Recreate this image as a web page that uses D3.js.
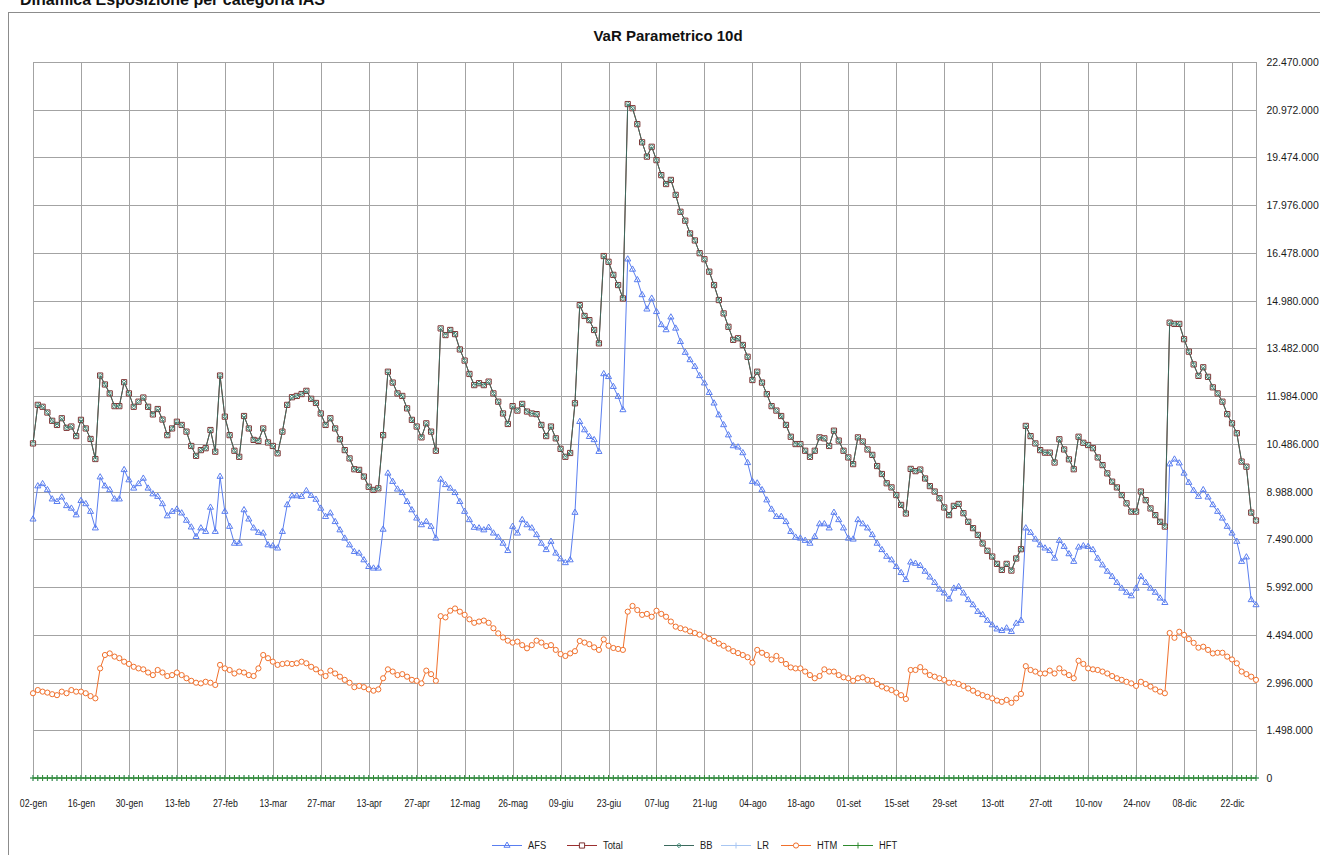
<!DOCTYPE html>
<html>
<head>
<meta charset="utf-8">
<script src="https://cdn.jsdelivr.net/npm/d3@7/dist/d3.min.js"></script>
<style>
  body { margin: 0; background: #fff; }
  svg { display: block; font-family: "Liberation Sans", Arial, sans-serif; }
</style>
</head>
<body>
<div id="chart"></div>
<script>

// x labels, one every 10 business days
const tickLabels = ['02-gen', '16-gen', '30-gen', '13-feb', '27-feb', '13-mar', '27-mar', '13-apr', '27-apr',
  '12-mag', '26-mag', '09-giu', '23-giu', '07-lug', '21-lug', '04-ago', '18-ago', '01-set', '15-set',
  '29-set', '13-ott', '27-ott', '10-nov', '24-nov', '08-dic', '22-dic'];

// y ticks (milioni)
const yTicks = [0, 1.498, 2.996, 4.494, 5.992, 7.49, 8.988, 10.486, 11.984, 13.482, 14.98, 16.478, 17.976, 19.474, 20.972, 22.47];

// values, in millions
const afs = [
  8.12, 9.16, 9.23, 9.04, 8.75, 8.67, 8.81, 8.54, 8.46, 8.25,
  8.70, 8.60, 8.36, 7.84, 9.44, 9.16, 9.04, 8.75, 8.75, 9.67,
  9.35, 9.09, 9.23, 9.40, 9.09, 8.91, 8.83, 8.60, 8.22, 8.36,
  8.43, 8.31, 8.08, 7.87, 7.57, 7.84, 7.73, 8.49, 7.73, 9.46,
  8.36, 7.89, 7.36, 7.36, 8.41, 8.12, 7.84, 7.70, 7.68, 7.31,
  7.28, 7.21, 7.73, 8.57, 8.85, 8.85, 8.83, 9.01, 8.86, 8.74,
  8.46, 8.20, 8.31, 8.04, 7.78, 7.52, 7.31, 7.10, 7.05, 6.84,
  6.63, 6.58, 6.58, 7.80, 9.56, 9.30, 9.06, 8.95, 8.67, 8.41,
  8.15, 7.94, 8.04, 7.89, 7.52, 9.37, 9.20, 9.09, 8.95, 8.67,
  8.36, 8.10, 7.86, 7.84, 7.78, 7.86, 7.68, 7.55, 7.36, 7.13,
  7.89, 7.68, 8.10, 7.94, 7.84, 7.63, 7.36, 7.16, 7.42, 7.05,
  6.87, 6.75, 6.84, 8.33, 11.18, 10.92, 10.71, 10.61, 10.24, 12.68,
  12.59, 12.28, 11.97, 11.55, 16.28, 15.96, 15.63, 15.16, 14.71, 15.05,
  14.63, 14.22, 14.06, 14.46, 14.11, 13.69, 13.35, 13.12, 12.91, 12.62,
  12.39, 12.09, 11.76, 11.39, 11.08, 10.76, 10.42, 10.38, 10.20, 9.89,
  9.30, 9.25, 9.04, 8.72, 8.43, 8.20, 8.20, 8.04, 7.73, 7.55,
  7.52, 7.45, 7.36, 7.57, 7.97, 7.97, 7.84, 8.33, 8.10, 7.84,
  7.52, 7.49, 8.10, 7.97, 7.84, 7.63, 7.36, 7.16, 6.95, 6.84,
  6.63, 6.44, 6.22, 6.77, 6.73, 6.66, 6.48, 6.30, 6.13, 5.92,
  5.80, 5.61, 5.95, 6.00, 5.80, 5.59, 5.43, 5.22, 5.12, 4.94,
  4.80, 4.67, 4.62, 4.70, 4.59, 4.85, 4.94, 7.84, 7.70, 7.49,
  7.31, 7.21, 7.13, 6.89, 7.45, 7.26, 7.03, 6.79, 7.24, 7.28,
  7.26, 7.16, 6.89, 6.68, 6.48, 6.32, 6.13, 5.95, 5.82, 5.71,
  5.95, 6.32, 6.13, 5.95, 5.82, 5.64, 5.50, 9.85, 10.00, 9.88,
  9.56, 9.27, 9.02, 8.83, 9.04, 8.81, 8.57, 8.36, 8.15, 7.89,
  7.68, 7.42, 6.79, 6.93, 5.59, 5.43
];

const total = [
  10.50, 11.71, 11.65, 11.47, 11.21, 11.08, 11.29, 10.99, 11.03, 10.73,
  11.24, 10.97, 10.64, 10.01, 12.63, 12.35, 12.07, 11.67, 11.67, 12.42,
  12.07, 11.65, 11.81, 11.94, 11.65, 11.41, 11.58, 11.25, 10.76, 10.97,
  11.18, 11.08, 10.87, 10.42, 10.11, 10.29, 10.35, 10.92, 10.24, 12.63,
  11.34, 10.76, 10.27, 10.08, 11.36, 10.97, 10.61, 10.58, 10.97, 10.53,
  10.42, 10.19, 10.87, 11.71, 11.95, 11.99, 12.05, 12.15, 11.90, 11.77,
  11.44, 11.08, 11.29, 10.97, 10.63, 10.29, 10.03, 9.69, 9.67, 9.46,
  9.14, 9.04, 9.09, 10.76, 12.75, 12.41, 12.07, 11.99, 11.60, 11.24,
  11.03, 10.69, 11.13, 10.87, 10.27, 14.11, 13.90, 14.06, 13.93, 13.45,
  13.10, 12.68, 12.33, 12.39, 12.33, 12.44, 12.07, 11.81, 11.44, 11.11,
  11.67, 11.53, 11.74, 11.50, 11.44, 11.42, 11.08, 10.73, 11.03, 10.66,
  10.33, 10.08, 10.20, 11.76, 14.84, 14.50, 14.37, 14.06, 13.64, 16.38,
  16.20, 15.79, 15.47, 15.05, 21.15, 21.02, 20.52, 19.95, 19.50, 19.81,
  19.39, 18.92, 18.64, 18.77, 18.30, 17.77, 17.49, 17.09, 16.87, 16.47,
  16.28, 15.89, 15.47, 15.00, 14.58, 14.16, 13.75, 13.80, 13.59, 13.22,
  12.49, 12.75, 12.41, 12.05, 11.67, 11.53, 11.36, 11.08, 10.71, 10.48,
  10.48, 10.27, 10.08, 10.27, 10.69, 10.66, 10.42, 10.90, 10.59, 10.27,
  10.06, 9.85, 10.69, 10.56, 10.31, 10.14, 9.79, 9.54, 9.25, 9.12,
  8.88, 8.57, 8.30, 9.70, 9.63, 9.68, 9.40, 9.16, 8.99, 8.78,
  8.49, 8.25, 8.54, 8.60, 8.31, 8.04, 7.84, 7.63, 7.36, 7.13,
  6.95, 6.72, 6.53, 6.72, 6.51, 6.89, 7.18, 11.05, 10.73, 10.50,
  10.29, 10.21, 10.21, 9.90, 10.63, 10.31, 10.00, 9.69, 10.71, 10.52,
  10.45, 10.35, 10.06, 9.82, 9.56, 9.30, 9.12, 8.88, 8.62, 8.36,
  8.36, 8.99, 8.72, 8.46, 8.25, 8.04, 7.89, 14.29, 14.25, 14.25,
  13.77, 13.38, 12.98, 12.62, 12.89, 12.59, 12.26, 12.07, 11.81, 11.42,
  11.13, 10.82, 9.93, 9.77, 8.33, 8.08
];

// BB sits exactly on Total in the picture
const bb = total.slice();

const htm = [
  2.66, 2.76, 2.71, 2.68, 2.63, 2.60, 2.71, 2.66, 2.76, 2.71,
  2.71, 2.66, 2.57, 2.50, 3.44, 3.86, 3.91, 3.81, 3.76, 3.65,
  3.58, 3.49, 3.44, 3.41, 3.31, 3.23, 3.39, 3.31, 3.20, 3.23,
  3.31, 3.23, 3.13, 3.05, 2.99, 2.97, 3.02, 2.99, 2.92, 3.55,
  3.44, 3.39, 3.28, 3.34, 3.31, 3.23, 3.20, 3.44, 3.86, 3.76,
  3.65, 3.55, 3.58, 3.60, 3.58, 3.60, 3.65, 3.60, 3.49, 3.41,
  3.31, 3.20, 3.37, 3.28, 3.18, 3.08, 2.99, 2.85, 2.89, 2.85,
  2.78, 2.74, 2.78, 3.13, 3.41, 3.34, 3.23, 3.26, 3.18, 3.08,
  3.05, 2.97, 3.37, 3.26, 3.05, 5.08, 5.04, 5.25, 5.32, 5.22,
  5.12, 4.98, 4.87, 4.91, 4.94, 4.87, 4.70, 4.54, 4.41, 4.31,
  4.25, 4.28, 4.17, 4.07, 4.17, 4.31, 4.25, 4.14, 4.17, 4.02,
  3.89, 3.83, 3.91, 3.98, 4.30, 4.25, 4.20, 4.10, 4.02, 4.35,
  4.15, 4.08, 4.05, 4.02, 5.22, 5.40, 5.27, 5.12, 5.15, 5.06,
  5.25, 5.15, 5.06, 4.91, 4.75, 4.70, 4.66, 4.60, 4.55, 4.50,
  4.44, 4.37, 4.30, 4.22, 4.15, 4.06, 3.98, 3.92, 3.86, 3.79,
  3.62, 4.02, 3.93, 3.86, 3.72, 3.83, 3.70, 3.58, 3.47, 3.44,
  3.44, 3.34, 3.23, 3.13, 3.20, 3.41, 3.34, 3.34, 3.23, 3.16,
  3.13, 3.05, 3.13, 3.16, 3.08, 3.05, 2.95, 2.87, 2.81, 2.76,
  2.68, 2.60, 2.48, 3.39, 3.39, 3.48, 3.34, 3.23, 3.18, 3.13,
  3.08, 2.99, 2.99, 2.95, 2.89, 2.81, 2.74, 2.66, 2.60, 2.55,
  2.50, 2.43, 2.39, 2.45, 2.36, 2.50, 2.64, 3.51, 3.39, 3.34,
  3.28, 3.28, 3.37, 3.28, 3.44, 3.31, 3.23, 3.13, 3.68, 3.58,
  3.44, 3.41, 3.39, 3.34, 3.28, 3.20, 3.13, 3.08, 3.02, 2.97,
  2.89, 3.02, 2.95, 2.87, 2.78, 2.71, 2.66, 4.55, 4.40, 4.59,
  4.49, 4.36, 4.24, 4.09, 4.12, 4.02, 3.91, 3.93, 3.93, 3.81,
  3.72, 3.60, 3.34, 3.26, 3.18, 3.08
];

// LR and HFT stay at zero all year
const lr = afs.map(() => 0);
const hft = afs.map(() => 0);

const seriesNames = ['AFS', 'Total', 'BB', 'LR', 'HTM', 'HFT'];

class Chart {

  constructor(opts) {
    this.element = opts.element;
    this.series = opts.series;
    this.n = opts.series[0].values.length;
    this.draw();
  }

  draw() {
    this.width = 1320;
    this.height = 855;
    this.plotBox = { left: 33, right: 1256, top: 62, bottom: 778 };

    this.svg = d3.select(this.element).append('svg')
      .attr('width', this.width)
      .attr('height', this.height);

    // outer frame of the chart object
    this.svg.append('rect')
      .attr('x', 8.5).attr('y', 12.5)
      .attr('width', 1330).attr('height', 860)
      .attr('fill', '#fff')
      .attr('stroke', '#8c8c8c');

    this.createScales();
    this.addGrid();
    this.addAxes();
    this.addTitles();
    this.addChart();
    this.addLegend();
  }

  createScales() {
    this.xScale = d3.scalePoint()
      .domain(d3.range(this.n))
      .range([this.plotBox.left, this.plotBox.right]);

    this.yScale = d3.scaleLinear()
      .domain([0, d3.max(yTicks)])
      .range([this.plotBox.bottom, this.plotBox.top]);

    const it = d3.formatLocale({ decimal: ',', thousands: '.', grouping: [3], currency: ['', '€'] });
    this.fmt = v => it.format(',d')(Math.round(v * 1e6));
  }

  addGrid() {
    const g = this.svg.append('g').attr('stroke', '#a3a3a3').attr('stroke-width', 1);
    const b = this.plotBox;

    g.selectAll('.h').data(yTicks).enter().append('line')
      .attr('x1', b.left).attr('x2', b.right)
      .attr('y1', d => Math.round(this.yScale(d)) + 0.5)
      .attr('y2', d => Math.round(this.yScale(d)) + 0.5);

    const vIdx = tickLabels.map((d, i) => i * 10).concat([this.n - 1]);
    g.selectAll('.v').data(vIdx).enter().append('line')
      .attr('y1', b.top).attr('y2', b.bottom)
      .attr('x1', d => Math.round(this.xScale(d)) + 0.5)
      .attr('x2', d => Math.round(this.xScale(d)) + 0.5);
  }

  addAxes() {
    const xAxis = d3.axisBottom(this.xScale)
      .tickValues(tickLabels.map((d, i) => i * 10))
      .tickFormat(d => tickLabels[d / 10])
      .tickSize(0)
      .tickPadding(21);

    const gx = this.svg.append('g')
      .attr('transform', `translate(0,${this.plotBox.bottom})`)
      .call(xAxis);
    gx.select('.domain').remove();
    // the labels in the picture are a condensed face
    gx.selectAll('text')
      .attr('font-size', 11).attr('fill', '#1a1a1a').attr('font-family', null)
      .attr('transform', 'scale(0.8,1)');

    const yAxis = d3.axisRight(this.yScale)
      .tickValues(yTicks)
      .tickFormat(this.fmt)
      .tickSize(0)
      .tickPadding(11);

    const gy = this.svg.append('g')
      .attr('transform', `translate(${this.plotBox.right},0)`)
      .call(yAxis);
    gy.select('.domain').remove();
    gy.selectAll('text')
      .attr('font-size', 11).attr('fill', '#1a1a1a').attr('font-family', null)
      .attr('transform', 'scale(0.95,1)');
  }

  addTitles() {
    this.svg.append('text')
      .attr('x', 20).attr('y', 5)
      .attr('font-size', 16).attr('font-weight', 'bold')
      .attr('fill', '#111')
      .text('Dinamica Esposizione per categoria IAS');

    this.svg.append('text')
      .attr('x', 668).attr('y', 41)
      .attr('text-anchor', 'middle')
      .attr('font-size', 15).attr('font-weight', 'bold')
      .attr('fill', '#111')
      .text('VaR Parametrico 10d');
  }

  markerPath(type) {
    if (type === 'triangle') return d3.symbol(d3.symbolTriangle, 16)();
    if (type === 'square') return 'M-2.6,-2.6H2.6V2.6H-2.6Z';
    if (type === 'diamond') return 'M0,-2.2L2.2,0L0,2.2L-2.2,0Z';
    if (type === 'circle') return d3.symbol(d3.symbolCircle, 21)();
    return 'M0,-3V3M-3,0H3';
  }

  addChart() {
    const line = d3.line()
      .x((d, i) => this.xScale(i))
      .y(d => this.yScale(d));

    this.series.forEach(s => {
      const g = this.svg.append('g');
      g.append('path')
        .datum(s.values)
        .attr('d', line)
        .attr('fill', 'none')
        .attr('stroke', s.line)
        .attr('stroke-width', 1);

      g.selectAll('path.m')
        .data(s.values)
        .enter().append('path')
        .attr('class', 'm')
        .attr('transform', (d, i) => `translate(${this.xScale(i)},${this.yScale(d)})`)
        .attr('d', this.markerPath(s.marker))
        .attr('fill', s.fill)
        .attr('stroke', s.mark)
        .attr('stroke-width', 1);
    });
  }

  addLegend() {
    const x0 = [492, 567, 664, 721, 781, 843];
    const y = 845;
    const g = this.svg.append('g');

    this.series.forEach((s, i) => {
      g.append('line')
        .attr('x1', x0[i]).attr('x2', x0[i] + 30)
        .attr('y1', y + 0.5).attr('y2', y + 0.5)
        .attr('stroke', s.line);
      g.append('path')
        .attr('transform', `translate(${x0[i] + 15},${y + 0.5})`)
        .attr('d', this.markerPath(s.marker))
        .attr('fill', s.fill)
        .attr('stroke', s.mark);
      g.append('text')
        .attr('transform', `translate(${x0[i] + 36},${y + 4}) scale(0.85,1)`)
        .attr('font-size', 11).attr('fill', '#1a1a1a')
        .text(s.name);
    });
  }

}

new Chart({
  element: '#chart',
  series: [
    { name: seriesNames[0], values: afs, line: '#5a7ef0', mark: '#5a7ef0', fill: 'none', marker: 'triangle' },
    { name: seriesNames[1], values: total, line: '#9b2f2f', mark: '#7e3434', fill: '#fff', marker: 'square' },
    { name: seriesNames[2], values: bb, line: '#3c6a5e', mark: '#3f8c78', fill: 'none', marker: 'diamond' },
    { name: seriesNames[3], values: lr, line: '#a8c6f2', mark: '#a8c6f2', fill: 'none', marker: 'plus' },
    { name: seriesNames[4], values: htm, line: '#f0702c', mark: '#f0702c', fill: '#fff', marker: 'circle' },
    { name: seriesNames[5], values: hft, line: '#2f8a2f', mark: '#2f8a2f', fill: 'none', marker: 'plus' }
  ]
});

</script>
</body>
</html>
